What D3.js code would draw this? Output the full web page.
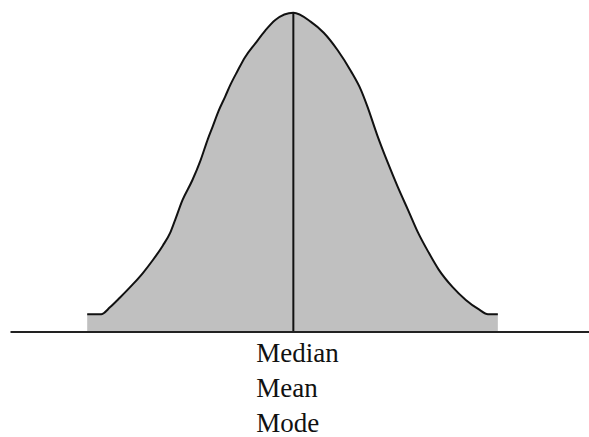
<!DOCTYPE html>
<html>
<head>
<meta charset="utf-8">
<script src="https://cdn.jsdelivr.net/npm/d3@7"></script>
<style>
  html, body { margin: 0; padding: 0; background: #fff; }
  svg { display: block; }
</style>
</head>
<body>
<div class="graph-div"></div>
<script>
var outerWidth = 589;
var outerHeight = 437;

// curve: z (std devs) and density
var zValues = [-2.51, -2.34, -2.23, -2.11, -1.95, -1.83, -1.71, -1.59, -1.50, -1.44,
               -1.35, -1.23, -1.13, -1.04, -0.98, -0.91, -0.83, -0.77, -0.68, -0.59,
               -0.46, -0.34, -0.22, 0,
               0.21, 0.37, 0.54, 0.70, 0.82, 0.90, 1.02, 1.15, 1.27, 1.40,
               1.52, 1.65, 1.77, 1.94, 2.10, 2.26, 2.37, 2.49];
var densities = [0.021, 0.021, 0.030, 0.042, 0.059, 0.073, 0.089, 0.107, 0.123, 0.139,
                 0.164, 0.189, 0.214, 0.241, 0.257, 0.276, 0.294, 0.308, 0.326, 0.343,
                 0.361, 0.377, 0.390, 0.399,
                 0.388, 0.374, 0.352, 0.326, 0.303, 0.282, 0.246, 0.211, 0.181, 0.151,
                 0.123, 0.098, 0.077, 0.055, 0.039, 0.027, 0.021, 0.021];
var centerLabels = ["Median", "Mean", "Mode"];
var centerZ = 0;

var data = zValues.map(function(z, i) { return {z: z, d: densities[i]}; });

var svg = d3.select(".graph-div").append("svg")
    .attr("width", outerWidth)
    .attr("height", outerHeight);

var xScale = d3.scaleLinear().domain([-3.45, 3.6]).range([10, 589]);
var yScale = d3.scaleLinear().domain([0, 0.4]).range([331, 12]);

var area = d3.area()
    .x(function(d) { return xScale(d.z); })
    .y0(yScale(0))
    .y1(function(d) { return yScale(d.d); })
    .curve(d3.curveMonotoneX);

var line = d3.line()
    .x(function(d) { return xScale(d.z); })
    .y(function(d) { return yScale(d.d); })
    .curve(d3.curveMonotoneX);

svg.append("path")
    .attr("d", area(data))
    .attr("fill", "#c0c0c0");

svg.append("path")
    .attr("d", line(data))
    .attr("fill", "none")
    .attr("stroke", "#111")
    .attr("stroke-width", 2);

// center line
svg.append("line")
    .attr("x1", xScale(centerZ)).attr("x2", xScale(centerZ))
    .attr("y1", yScale(0.399)).attr("y2", yScale(0))
    .attr("stroke", "#111")
    .attr("stroke-width", 2);

// baseline
var xAxis = d3.axisBottom(xScale).ticks(0).tickSizeOuter(0);
var xAxisG = svg.append("g")
    .attr("transform", "translate(0," + (yScale(0) + 0.5) + ")")
    .call(xAxis);
xAxisG.select(".domain").attr("stroke", "#222").attr("stroke-width", 2);
xAxisG.selectAll(".tick").remove();

svg.selectAll(".center-label")
    .data(centerLabels)
    .enter().append("text")
    .attr("class", "center-label")
    .attr("x", xScale(centerZ) - 37)
    .attr("y", function(d, i) { return 362 + i * 35; })
    .attr("font-family", "'Liberation Serif', 'Times New Roman', serif")
    .attr("font-size", 27)
    .attr("fill", "#111")
    .text(function(d) { return d; });
</script>
</body>
</html>
